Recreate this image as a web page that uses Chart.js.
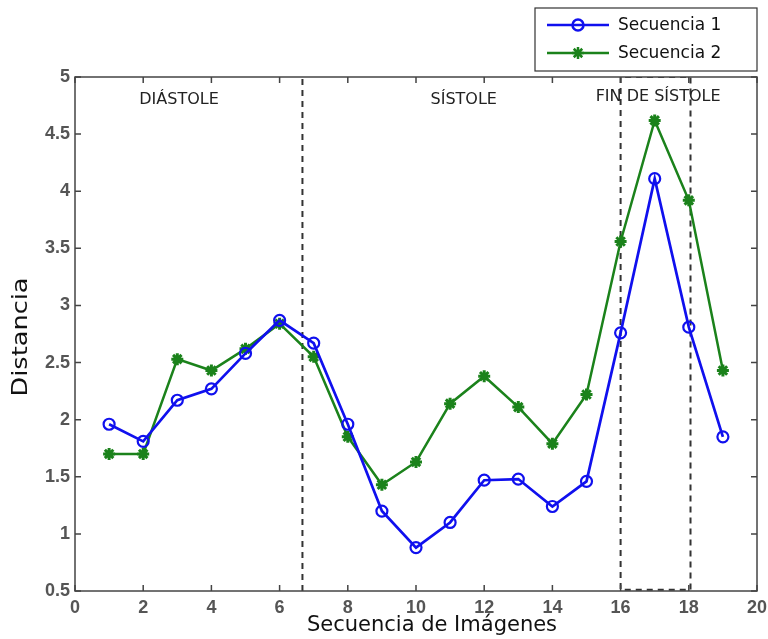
<!DOCTYPE html>
<html><head><meta charset="utf-8">
<script src="https://cdn.jsdelivr.net/npm/chart.js@4/dist/chart.umd.min.js"></script>
<style>html,body{margin:0;padding:0;background:#fff}#wrap{width:768px;height:639px}</style>
</head><body><div id="wrap"><canvas id="c" width="768" height="639"></canvas></div>
<script>
const frames = [1,2,3,4,5,6,7,8,9,10,11,12,13,14,15,16,17,18,19];
const seq1 = [1.96,1.81,2.17,2.27,2.58,2.87,2.67,1.96,1.20,0.88,1.10,1.47,1.48,1.24,1.46,2.76,4.11,2.81,1.85];
const seq2 = [1.70,1.70,2.53,2.43,2.62,2.84,2.55,1.85,1.43,1.63,2.14,2.38,2.11,1.79,2.22,3.56,4.62,3.92,2.43];
const seriesNames = ['Secuencia 1','Secuencia 2'];
const xTicks = [0,2,4,6,8,10,12,14,16,18,20];
const yTicks = [0.5,1,1.5,2,2.5,3,3.5,4,4.5,5];
const xTitle = 'Secuencia de Imágenes';
const yTitle = 'Distancia';
const phaseLabels = ['DIÁSTOLE','SÍSTOLE','FIN DE SÍSTOLE'];
const phaseLabelX = [3.05,11.4,17.1];
const phaseLabelY = [4.8,4.8,4.83];
const boundaryX = 6.67;
const finStart = 16, finEnd = 18.05;

const BLUE = '#1010ee', GREEN = '#1b821b';

const pts = (ys) => frames.map((f,i)=>({x:f,y:ys[i]}));

const framePlugin = {
  id:'framePlugin',
  afterDatasetsDraw(chart){
    const {ctx, chartArea:a, scales:{x,y}} = chart;
    ctx.save();
    ctx.strokeStyle = '#444'; ctx.lineWidth = 1.5;
    ctx.strokeRect(a.left, a.top, a.right-a.left, a.bottom-a.top);
    ctx.beginPath();
    xTicks.forEach(v=>{const p=x.getPixelForValue(v);
      ctx.moveTo(p,a.bottom); ctx.lineTo(p,a.bottom-6);
      ctx.moveTo(p,a.top); ctx.lineTo(p,a.top+6);});
    yTicks.forEach(v=>{const p=y.getPixelForValue(v);
      ctx.moveTo(a.left,p); ctx.lineTo(a.left+6,p);
      ctx.moveTo(a.right,p); ctx.lineTo(a.right-6,p);});
    ctx.stroke();
    ctx.fillStyle = '#222';
    ctx.font = '16px "DejaVu Sans"';
    ctx.textAlign = 'center'; ctx.textBaseline = 'middle';
    phaseLabels.forEach((t,i)=>ctx.fillText(t, x.getPixelForValue(phaseLabelX[i]), y.getPixelForValue(phaseLabelY[i])));
    // axis titles
    ctx.fillStyle = '#111';
    ctx.font = '21px "DejaVu Sans"';
    ctx.fillText(xTitle, 432, 626);
    ctx.translate(22, 337);
    ctx.rotate(-Math.PI/2);
    ctx.scale(1.22, 1);
    ctx.fillText(yTitle, 0, 0);
    ctx.restore();
  },
  afterDraw(chart){
    const {ctx} = chart;
    ctx.save();
    ctx.fillStyle='#fff'; ctx.fillRect(535,8,222,63);
    ctx.strokeStyle='#333'; ctx.lineWidth=1.2; ctx.strokeRect(535,8,222,63);
    const rows=[25,53];
    chart.data.datasets.slice(0,2).forEach((ds,i)=>{
      ctx.strokeStyle=ds.borderColor; ctx.lineWidth=2.5; ctx.setLineDash([]);
      ctx.beginPath(); ctx.moveTo(547,rows[i]); ctx.lineTo(609,rows[i]); ctx.stroke();
      ctx.fillStyle=ds.pointBackgroundColor;
      Chart.helpers.drawPoint(ctx,{pointStyle:ds.pointStyle,radius:ds.pointRadius,borderWidth:ds.pointBorderWidth,rotation:0},578,rows[i]);
      ctx.fillStyle='#111'; ctx.font='17px "DejaVu Sans"'; ctx.textAlign='left'; ctx.textBaseline='middle';
      ctx.fillText(ds.label,618,rows[i]+1);
    });
    ctx.restore();
  }
};

new Chart(document.getElementById('c'),{
  type:'line',
  data:{datasets:[
    {label:seriesNames[0],data:pts(seq1),borderColor:BLUE,backgroundColor:'rgba(0,0,0,0)',borderWidth:2.7,
     pointStyle:'circle',pointRadius:5.5,pointBorderWidth:2.2,pointBorderColor:BLUE,pointBackgroundColor:'rgba(0,0,0,0)'},
    {label:seriesNames[1],data:pts(seq2),borderColor:GREEN,backgroundColor:GREEN,borderWidth:2.5,
     pointStyle:'star',pointRadius:6,pointBorderWidth:3,pointBorderColor:GREEN,pointBackgroundColor:GREEN},
    {label:'div',data:[{x:boundaryX,y:0.5},{x:boundaryX,y:5}],borderColor:'#333',borderWidth:2,borderDash:[6,5],pointRadius:0},
    {label:'fin',data:[{x:finStart,y:5},{x:finStart,y:0.51},{x:finEnd,y:0.51},{x:finEnd,y:5},{x:finStart,y:5}],
     borderColor:'#333',borderWidth:2,borderDash:[6,5],pointRadius:0}
  ]},
  options:{
    responsive:false, animation:false, devicePixelRatio:1,
    layout:{padding:{top:77,right:11,left:0,bottom:0}},
    plugins:{legend:{display:false},tooltip:{enabled:false}},
    elements:{line:{tension:0}},
    scales:{
      x:{type:'linear',min:0,max:20,
        afterBuildTicks:s=>{s.ticks=xTicks.map(v=>({value:v}));},
        afterFit:s=>{s.height=48; s.paddingRight=6; s.paddingLeft=6;},
        grid:{display:false,drawTicks:false},
        border:{display:false},
        ticks:{padding:6,color:'#555',font:{family:'"Liberation Sans"',size:18,weight:'bold'},maxRotation:0,autoSkip:false},
        title:{display:false}
      },
      y:{type:'linear',min:0.5,max:5,
        afterBuildTicks:s=>{s.ticks=yTicks.map(v=>({value:v}));},
        afterFit:s=>{s.width=75; s.paddingTop=6; s.paddingBottom=6;},
        grid:{display:false,drawTicks:false},
        border:{display:false},
        ticks:{padding:5,color:'#555',font:{family:'"Liberation Sans"',size:18,weight:'bold'},callback:v=>String(v),autoSkip:false},
        title:{display:false}
      }
    }
  },
  plugins:[framePlugin]
});
</script>
</body></html>
